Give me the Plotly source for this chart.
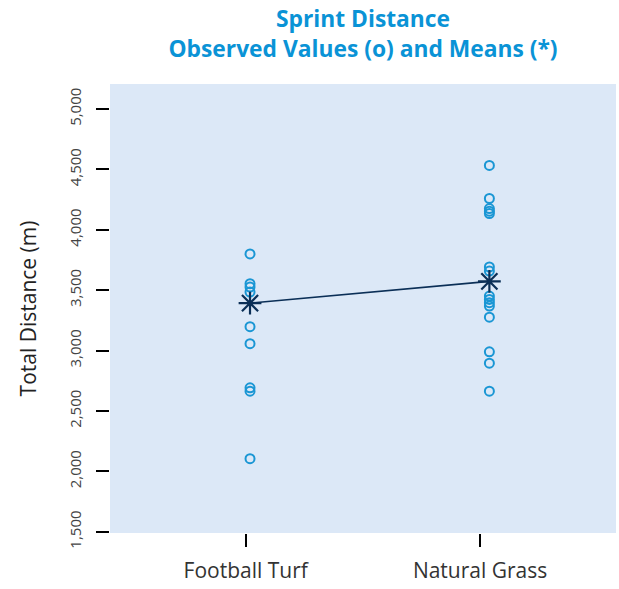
import plotly.graph_objects as go

categories = ["Football Turf", "Natural Grass"]
turf_values = [3800, 3554, 3526, 3485, 3198, 3057, 2692, 2664, 2105]
grass_values = [4533, 4259, 4176, 4154, 4135, 3692, 3659, 3451, 3424, 3397,
                3369, 3277, 2990, 2896, 2664]
means = [3393, 3573]
y_ticks = [1500, 2000, 2500, 3000, 3500, 4000, 4500, 5000]

TITLE_COLOR = "#0a93d6"
POINT_COLOR = "#1a96d4"
MEAN_COLOR = "#0b2f57"
FONT = "Open Sans"

fig = go.Figure()

# invisible anchor trace for the tick axis
fig.add_trace(go.Scatter(x=categories, y=means, mode="markers",
                         marker=dict(opacity=0), hoverinfo="skip",
                         showlegend=False, xaxis="x", yaxis="y"))

obs_x = [categories[0]] * len(turf_values) + [categories[1]] * len(grass_values)
obs_y = turf_values + grass_values
fig.add_trace(go.Scatter(x=obs_x, y=obs_y, mode="markers",
                         marker=dict(symbol="circle-open", size=9,
                                     color=POINT_COLOR,
                                     line=dict(width=2, color=POINT_COLOR)),
                         showlegend=False, xaxis="x2", yaxis="y"))

fig.add_trace(go.Scatter(x=categories, y=means, mode="lines+markers",
                         line=dict(color=MEAN_COLOR, width=1.6),
                         marker=dict(symbol="asterisk-open", size=19,
                                     color=MEAN_COLOR,
                                     line=dict(width=2.2, color=MEAN_COLOR)),
                         showlegend=False, xaxis="x2", yaxis="y"))

fig.update_layout(
    width=619, height=589,
    margin=dict(l=110, r=3, t=84, b=56),
    paper_bgcolor="white",
    plot_bgcolor="#dce8f7",
    font=dict(family=FONT, color="#333333"),
    title=dict(text="<b>Sprint Distance</b><br><b>Observed Values (o) and Means (*)</b>",
               font=dict(size=22.8, color=TITLE_COLOR, family=FONT),
               x=0.5, xref="paper", xanchor="center",
               y=1 - 27 / 589, yref="container", yanchor="top"),
    xaxis=dict(type="category", categoryorder="array", categoryarray=categories,
               range=[-0.579, 1.580], showgrid=False, zeroline=False,
               showline=False, ticks="outside", ticklen=13, tickwidth=2,
               tickcolor="black", tickfont=dict(size=21, color="#333333"),
               ticklabelstandoff=6, fixedrange=True),
    xaxis2=dict(type="category", categoryorder="array", categoryarray=categories,
                range=[-0.585, 1.529], overlaying="x", visible=False,
                fixedrange=True),
    yaxis=dict(range=[1490, 5207], tickvals=y_ticks, tickformat=",d",
               showgrid=False, zeroline=False, showline=False,
               ticks="outside", ticklen=13, tickwidth=2, tickcolor="black",
               tickangle=-90, tickfont=dict(size=15, color="#444444"),
               ticklabelstandoff=9,
               title=dict(text="Total Distance (m)",
                          font=dict(size=21, color="#222222"), standoff=22),
               fixedrange=True),
)

fig.write_html("out.html", config={"displayModeBar": False},
               post_script="document.body.style.margin='0';")
